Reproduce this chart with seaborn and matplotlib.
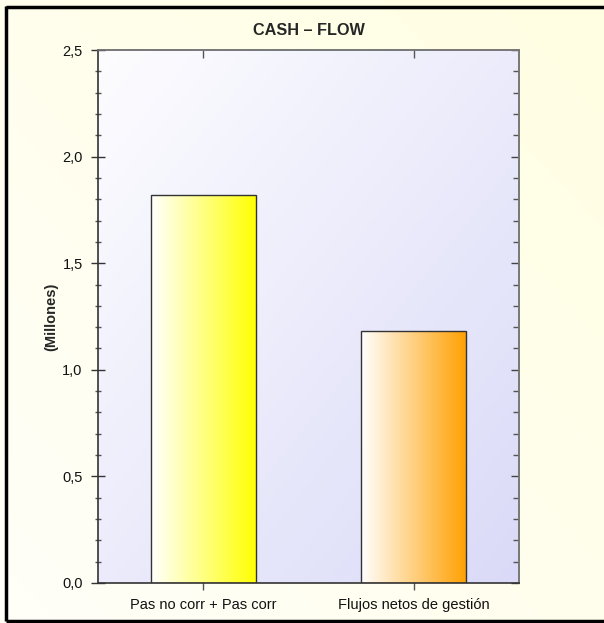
import numpy as np
import pandas as pd
import matplotlib
matplotlib.use("Agg")
import matplotlib.pyplot as plt
import seaborn as sns
from matplotlib.colors import LinearSegmentedColormap, to_rgb
from matplotlib.ticker import MultipleLocator, FuncFormatter, FixedLocator, NullFormatter

# ---- data ----
categories = ["Pas no corr + Pas corr", "Flujos netos de gestión"]
values = [1.82, 1.18]
bar_colors = ["#FFFF00", "#FFA000"]
y_ticks = [0.0, 0.5, 1.0, 1.5, 2.0, 2.5]
title = "CASH \u2013 FLOW"
ylabel = "(Millones)"

sns.set_theme(style="white")
plt.rcParams['font.family'] = ['Liberation Sans', 'DejaVu Sans']

W, H = 604, 623
fig = plt.figure(figsize=(W / 100, H / 100), dpi=100)

# figure background gradient (white-cream -> pale yellow)
bg = fig.add_axes([0, 0, 1, 1], zorder=-10)
xx, yy = np.meshgrid(np.linspace(0, 1, 200), np.linspace(0, 1, 200))
t = (xx + (1 - yy)) / 2
c0 = np.array(to_rgb("#FFFFF8"))
c1 = np.array(to_rgb("#FFFEE2"))
img = c0[None, None, :] * (1 - t[..., None]) + c1[None, None, :] * t[..., None]
bg.imshow(img, extent=[0, 1, 0, 1], aspect="auto", origin="upper")
bg.set_xlim(0, 1); bg.set_ylim(0, 1)
bg.axis("off")
# frame lines (left, top, bottom)
bg.plot([6 / W, 6 / W], [1 - 6 / H, 2 / H], color="black", lw=2.5, solid_capstyle="butt")
bg.plot([6 / W, 1], [1 - 6.5 / H, 1 - 6.5 / H], color="black", lw=2.5, solid_capstyle="butt")
bg.plot([6 / W, 1], [2 / H, 2 / H], color="black", lw=2.5, solid_capstyle="butt")

left, right, top, bottom = 98, 519, 50, 583
ax = fig.add_axes([left / W, 1 - bottom / H, (right - left) / W, (bottom - top) / H])

df = pd.DataFrame({"cat": categories, "val": values})
sns.barplot(data=df, x="cat", y="val", ax=ax, width=0.5, color="white",
            edgecolor="#333333", linewidth=1.0, zorder=3)

xlim = (-0.5, len(categories) - 0.5)
ylim = (0, 2.5)

# plot-area gradient (white -> lavender, diagonal)
t2 = (xx + yy) / 2
a0 = np.array(to_rgb("#FDFDFF"))
a1 = np.array(to_rgb("#DADAF8"))
img2 = a0[None, None, :] * (1 - t2[..., None]) + a1[None, None, :] * t2[..., None]
ax.imshow(img2, extent=[0, 1, 0, 1], transform=ax.transAxes, aspect="auto",
          origin="upper", zorder=0)

# bar gradients
for patch, col in zip(ax.patches, bar_colors):
    x0, y0 = patch.get_x(), patch.get_y()
    w, h = patch.get_width(), patch.get_height()
    cmap = LinearSegmentedColormap.from_list("g", ["#FFFFFF", col])
    grad = np.linspace(0, 1, 256)[None, :]
    im = ax.imshow(grad, cmap=cmap, extent=[x0, x0 + w, y0, y0 + h],
                   aspect="auto", zorder=2.5)
    im.set_clip_path(patch)
    patch.set_facecolor("none")
ax.set_xlim(*xlim)
ax.set_ylim(*ylim)

fs = 10.5
# left / bottom ticks
ax.set_yticks(y_ticks)
ax.yaxis.set_major_formatter(FuncFormatter(lambda v, p: f"{v:.1f}".replace(".", ",")))
ax.yaxis.set_minor_locator(MultipleLocator(0.1))
ax.tick_params(axis="y", which="major", direction="inout", length=10, width=1,
               color="#333333", labelsize=fs, pad=6, right=False, left=True)
ax.tick_params(axis="y", which="minor", direction="inout", length=5, width=1,
               color="#555555", right=False, left=True)
ax.tick_params(axis="x", which="major", direction="inout", length=10, width=1,
               color="#555555", labelsize=fs, pad=6, top=False, bottom=True)
for lab in ax.get_yticklabels() + ax.get_xticklabels():
    lab.set_color("#111111")

# right / top inward ticks
ax_r = ax.secondary_yaxis("right")
ax_r.yaxis.set_major_locator(FixedLocator(y_ticks))
ax_r.yaxis.set_minor_locator(MultipleLocator(0.1))
ax_r.yaxis.set_major_formatter(NullFormatter())
ax_r.tick_params(axis="y", which="major", direction="in", length=6, width=1, color="#444444")
ax_r.tick_params(axis="y", which="minor", direction="in", length=4, width=1, color="#555555")
ax_r.spines["right"].set_color("#777777")
ax_r.spines["right"].set_linewidth(1.2)

ax_t = ax.secondary_xaxis("top")
ax_t.xaxis.set_major_locator(FixedLocator(list(range(len(categories)))))
ax_t.xaxis.set_major_formatter(NullFormatter())
ax_t.tick_params(axis="x", which="major", direction="in", length=6, width=1, color="#555555")
ax_t.spines["top"].set_color("#777777")
ax_t.spines["top"].set_linewidth(1.2)

ax.set_xlabel("")
ax.set_ylabel(ylabel, fontsize=fs, fontweight="bold", labelpad=3)
ax.set_title(title, fontsize=11.7, fontweight="bold", pad=11)

for side in ["left", "bottom"]:
    ax.spines[side].set_color("#333333")
    ax.spines[side].set_linewidth(1.2)
for side in ["top", "right"]:
    ax.spines[side].set_color("#777777")
    ax.spines[side].set_linewidth(1.2)
    ax.spines[side].set_visible(True)

fig.savefig("out.png", dpi=100)
